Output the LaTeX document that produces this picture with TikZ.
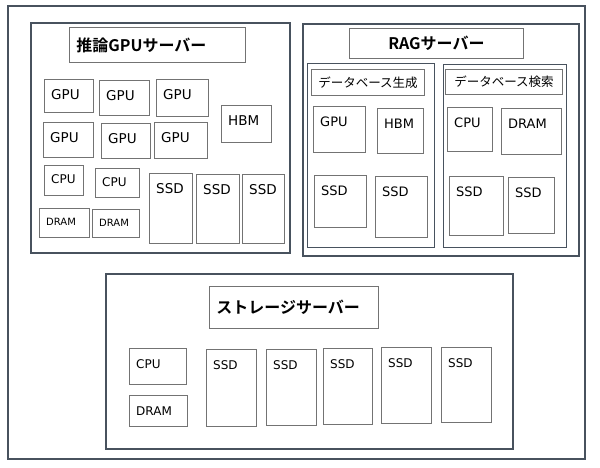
\documentclass[tikz,border=0pt]{standalone}
\usepackage{fontspec}
\setmainfont{DejaVu Sans}
\newfontfamily\jp{Noto Sans CJK JP}[BoldFont={Noto Sans CJK JP Bold}]
\usetikzlibrary{positioning}
\definecolor{framegray}{RGB}{72,82,94}
\definecolor{partgray}{RGB}{115,115,115}
\newcommand{\fsz}[1]{\fontsize{#1}{#1}\selectfont}
\tikzset{
  server/.style={draw=framegray, line width=1.6pt, anchor=north west, inner sep=0pt},
  section/.style={draw=framegray, line width=1.1pt, anchor=north west, inner sep=0pt},
  part/.style={draw=partgray, line width=0.9pt, anchor=north west, inner sep=0pt},
  tag/.style={anchor=west, inner sep=0pt, xshift=7pt, yshift=-16pt, font=\fsz{13.5}},
  headline/.style={draw=partgray, line width=0.9pt, anchor=north west, inner xsep=7pt,
    font=\jp\bfseries\fsz{16}},
  subhead/.style={draw=partgray, line width=0.9pt, anchor=north west, font=\jp\fsz{12.5}}
}

\begin{document}
\begin{tikzpicture}[x=1pt, y=-1pt]
  \useasboundingbox (0,0) rectangle (600,467);
  \node[server, minimum width=577pt, minimum height=453pt] (all) at (7,5) {};

  % inference GPU server
  \node[server, minimum width=259pt, minimum height=230pt] (infer) at (30,22) {};
  \node[headline, minimum width=176pt, minimum height=35pt, text width=162pt, align=left]
    (infertitle) at (69,27) {推論GPUサーバー};
  \node[part, minimum width=49pt, minimum height=33pt, label={[tag]north west:GPU}] (gpuA) at (44,79) {};
  \node[part, minimum width=50pt, minimum height=35pt, label={[tag]north west:GPU}] (gpuB) at (99,80) {};
  \node[part, minimum width=52pt, minimum height=37pt, label={[tag]north west:GPU}] (gpuC) at (156,79) {};
  \node[part, minimum width=50pt, minimum height=35pt, label={[tag]north west:GPU}] (gpuD) at (43,122) {};
  \node[part, minimum width=49pt, minimum height=35pt, label={[tag]north west:GPU}] (gpuE) at (101,123) {};
  \node[part, minimum width=53pt, minimum height=36pt, label={[tag]north west:GPU}] (gpuF) at (154,122) {};
  \node[part, minimum width=50pt, minimum height=37pt, label={[tag]north west:HBM}] (hbmA) at (221,105) {};
  \node[part, minimum width=39pt, minimum height=30pt, label={[tag, yshift=2pt, font=\fsz{12}]north west:CPU}] (cpuA) at (44,165) {};
  \node[part, minimum width=44pt, minimum height=29pt, label={[tag, yshift=2pt, font=\fsz{12}]north west:CPU}] (cpuB) at (95,168) {};
  \node[part, minimum width=50pt, minimum height=29pt, label={[tag, yshift=2pt, font=\fsz{10}]north west:DRAM}] (dramA) at (39,208) {};
  \node[part, minimum width=47pt, minimum height=28pt, label={[tag, yshift=2pt, font=\fsz{10}]north west:DRAM}] (dramB) at (92,209) {};
  \node[part, minimum width=43pt, minimum height=70pt, label={[tag]north west:SSD}] (ssdA) at (149,173) {};
  \node[part, minimum width=43pt, minimum height=69pt, label={[tag]north west:SSD}] (ssdB) at (196,174) {};
  \node[part, minimum width=42pt, minimum height=69pt, label={[tag]north west:SSD}] (ssdC) at (242,174) {};

  % RAG server
  \node[server, minimum width=276pt, minimum height=232pt] (rag) at (302,23) {};
  \node[headline, minimum width=174pt, minimum height=30pt] (ragtitle) at (349,28) {RAGサーバー};
  \node[section, minimum width=127pt, minimum height=184pt] (build) at (307,63) {};
  \node[subhead, minimum width=113pt, minimum height=26pt] (buildtitle) at (311,69) {データベース生成};
  \node[part, minimum width=52pt, minimum height=46pt, label={[tag, font=\fsz{13}]north west:GPU}] (gpuG) at (313,106) {};
  \node[part, minimum width=46pt, minimum height=45pt, label={[tag, font=\fsz{13}]north west:HBM}] (hbmB) at (377,108) {};
  \node[part, minimum width=52pt, minimum height=52pt, label={[tag, font=\fsz{13}]north west:SSD}] (ssdD) at (314,175) {};
  \node[part, minimum width=52pt, minimum height=61pt, label={[tag, font=\fsz{13}]north west:SSD}] (ssdE) at (375,176) {};
  \node[section, minimum width=123pt, minimum height=183pt] (search) at (443,64) {};
  \node[subhead, minimum width=117pt, minimum height=25pt] (searchtitle) at (445,69) {データベース検索};
  \node[part, minimum width=45pt, minimum height=44pt, label={[tag, font=\fsz{13}]north west:CPU}] (cpuC) at (447,107) {};
  \node[part, minimum width=60pt, minimum height=46pt, label={[tag, font=\fsz{13}]north west:DRAM}] (dramC) at (501,108) {};
  \node[part, minimum width=54pt, minimum height=59pt, label={[tag, font=\fsz{13}]north west:SSD}] (ssdF) at (449,176) {};
  \node[part, minimum width=46pt, minimum height=56pt, label={[tag, font=\fsz{13}]north west:SSD}] (ssdG) at (508,177) {};

  % storage server
  \node[server, minimum width=407pt, minimum height=175pt] (store) at (105,273) {};
  \node[headline, minimum width=169pt, minimum height=42pt, text width=155pt, align=left]
    (storetitle) at (209,286) {ストレージサーバー};
  \node[part, minimum width=57pt, minimum height=36pt, label={[tag, font=\fsz{12}]north west:CPU}] (cpuD) at (129,348) {};
  \node[part, minimum width=58pt, minimum height=31pt, label={[tag, font=\fsz{12}]north west:DRAM}] (dramD) at (129,395) {};
  \node[part, minimum width=50pt, minimum height=77pt, label={[tag, font=\fsz{12}]north west:SSD}] (ssdH) at (206,349) {};
  \node[part, minimum width=50pt, minimum height=76pt, label={[tag, font=\fsz{12}]north west:SSD}] (ssdI) at (266,349) {};
  \node[part, minimum width=49pt, minimum height=76pt, label={[tag, font=\fsz{12}]north west:SSD}] (ssdJ) at (323,348) {};
  \node[part, minimum width=50pt, minimum height=76pt, label={[tag, font=\fsz{12}]north west:SSD}] (ssdK) at (381,347) {};
  \node[part, minimum width=50pt, minimum height=75pt, label={[tag, font=\fsz{12}]north west:SSD}] (ssdL) at (441,347) {};
\end{tikzpicture}
\end{document}
